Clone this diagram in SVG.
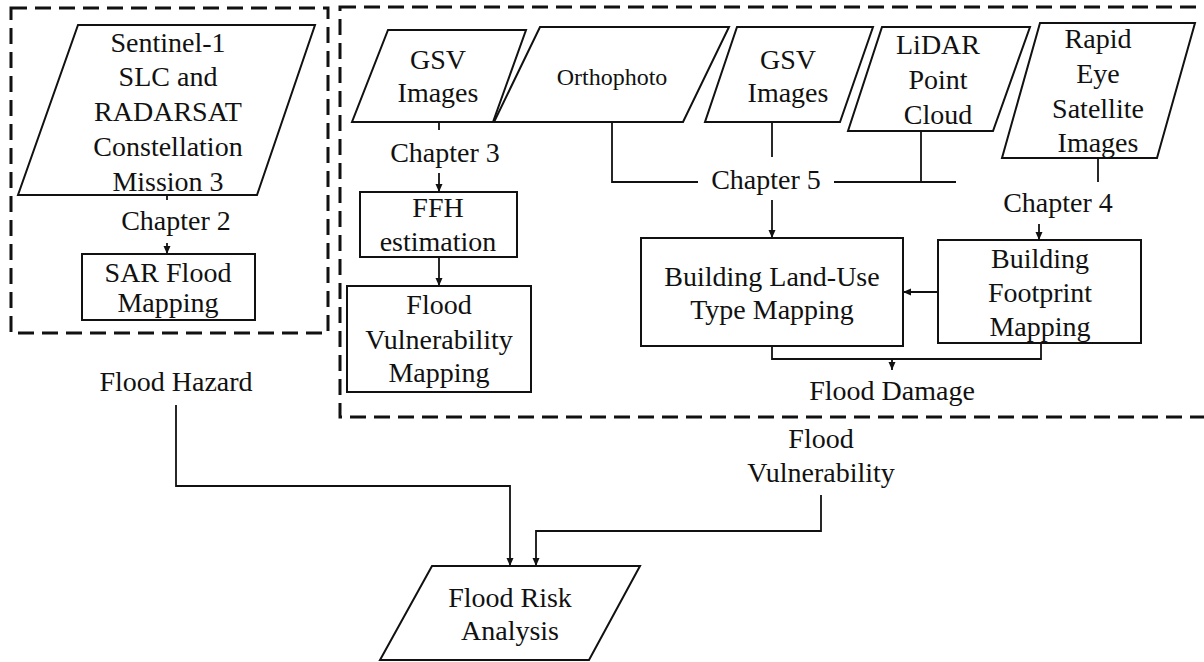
<svg xmlns="http://www.w3.org/2000/svg" width="1204" height="662" viewBox="0 0 1204 662">
  <style>
    text { font-family: "Liberation Serif", "Times New Roman", serif; font-size: 28px; fill: #111; text-anchor: middle; }
    .small { font-size: 24px; }
    .shape { fill: #fff; stroke: #111; stroke-width: 2; }
    .group { fill: none; stroke: #111; stroke-width: 3; stroke-dasharray: 16 8; }
    .link { fill: none; stroke: #111; stroke-width: 1.8; }
    .arrow { fill: none; stroke: #111; stroke-width: 1.8; marker-end: url(#head); }
  </style>
  <defs>
    <marker id="head" markerUnits="userSpaceOnUse" markerWidth="8" markerHeight="8" refX="8" refY="3.5" orient="auto">
      <path d="M0,0 L8,3.5 L0,7 z" fill="#111"/>
    </marker>
  </defs>

  <rect fill="#fff" x="0" y="0" width="1204" height="662"/>

  <!-- study areas -->
  <g id="hazard-group">
    <rect class="group" x="11" y="8" width="317" height="325"/>
  </g>
  <g id="vulnerability-group">
    <rect class="group" x="340" y="7" width="900" height="410"/>
  </g>

  <!-- connectors -->
  <g id="connectors">
    <line class="link" x1="167" y1="195" x2="167" y2="200"/>
    <line class="arrow" x1="167" y1="243" x2="167" y2="254"/>

    <line class="link" x1="439" y1="122" x2="439" y2="130"/>
    <line class="arrow" x1="439" y1="173" x2="439" y2="192"/>
    <line class="arrow" x1="439" y1="257" x2="439" y2="286"/>

    <polyline class="link" points="612,122 612,182 698,182"/>
    <line class="link" x1="772" y1="122" x2="772" y2="157"/>
    <line class="arrow" x1="772" y1="200" x2="772" y2="238"/>
    <line class="link" x1="834" y1="182" x2="956" y2="182"/>
    <line class="link" x1="921" y1="131" x2="921" y2="182"/>

    <line class="link" x1="1098" y1="158" x2="1098" y2="182"/>
    <line class="arrow" x1="1039" y1="224" x2="1039" y2="240"/>
    <line class="arrow" x1="938" y1="292" x2="903" y2="292"/>

    <polyline class="link" points="772,346 772,359 1041,359 1041,343"/>
    <line class="arrow" x1="892" y1="359" x2="892" y2="370"/>

    <polyline class="arrow" points="176,405 176,486 510,486 510,566"/>
    <polyline class="arrow" points="821,495 821,531 536,531 536,566"/>
  </g>

  <!-- Chapter 2: SAR -->
  <g id="sentinel">
    <polygon class="shape" points="78,25 315,25 257,195 18,195"/>
    <text x="168" y="52">Sentinel-1</text>
    <text x="168" y="86">SLC and</text>
    <text x="168" y="121">RADARSAT</text>
    <text x="168" y="156">Constellation</text>
    <text x="168" y="191">Mission 3</text>
  </g>
  <g id="chapter2"><text x="176" y="230">Chapter 2</text></g>
  <g id="sar-mapping">
    <rect class="shape" x="82" y="254" width="173" height="66"/>
    <text x="168" y="282">SAR Flood</text>
    <text x="168" y="312">Mapping</text>
  </g>
  <g id="flood-hazard"><text x="176" y="391">Flood Hazard</text></g>

  <!-- Chapter 3: FFH -->
  <g id="gsv-1">
    <polygon class="shape" points="388,30 526,30 493,122 352,122"/>
    <text x="438" y="69">GSV</text>
    <text x="438" y="102">Images</text>
  </g>
  <g id="chapter3"><text x="445" y="162">Chapter 3</text></g>
  <g id="ffh">
    <rect class="shape" x="360" y="192" width="157" height="65"/>
    <text x="438" y="217">FFH</text>
    <text x="438" y="251">estimation</text>
  </g>
  <g id="vulnerability-mapping">
    <rect class="shape" x="347" y="286" width="184" height="106"/>
    <text x="439" y="314">Flood</text>
    <text x="439" y="349">Vulnerability</text>
    <text x="439" y="382">Mapping</text>
  </g>

  <!-- Chapter 5: land use -->
  <g id="orthophoto">
    <polygon class="shape" points="540,27 729,27 683,122 494,122"/>
    <text class="small" x="612" y="85">Orthophoto</text>
  </g>
  <g id="gsv-2">
    <polygon class="shape" points="737,27 873,27 840,122 705,122"/>
    <text x="788" y="69">GSV</text>
    <text x="788" y="102">Images</text>
  </g>
  <g id="lidar">
    <polygon class="shape" points="882,27 1030,27 993,131 848,131"/>
    <text x="938" y="54">LiDAR</text>
    <text x="938" y="89">Point</text>
    <text x="938" y="124">Cloud</text>
  </g>
  <g id="chapter5"><text x="766" y="189">Chapter 5</text></g>
  <g id="land-use">
    <rect class="shape" x="641" y="238" width="262" height="108"/>
    <text x="772" y="286">Building Land-Use</text>
    <text x="772" y="319">Type Mapping</text>
  </g>

  <!-- Chapter 4: footprints -->
  <g id="rapideye">
    <polygon class="shape" points="1040,23 1195,23 1157,158 1002,158"/>
    <text x="1098" y="48">Rapid</text>
    <text x="1098" y="83">Eye</text>
    <text x="1098" y="118">Satellite</text>
    <text x="1098" y="152">Images</text>
  </g>
  <g id="chapter4"><text x="1058" y="212">Chapter 4</text></g>
  <g id="footprint">
    <rect class="shape" x="938" y="240" width="203" height="103"/>
    <text x="1040" y="268">Building</text>
    <text x="1040" y="302">Footprint</text>
    <text x="1040" y="336">Mapping</text>
  </g>
  <g id="flood-damage"><text x="892" y="400">Flood Damage</text></g>

  <!-- outputs -->
  <g id="flood-vulnerability">
    <text x="821" y="448">Flood</text>
    <text x="821" y="482">Vulnerability</text>
  </g>
  <g id="risk-analysis">
    <polygon class="shape" points="432,566 640,566 589,660 380,660"/>
    <text x="510" y="607">Flood Risk</text>
    <text x="510" y="640">Analysis</text>
  </g>
</svg>
